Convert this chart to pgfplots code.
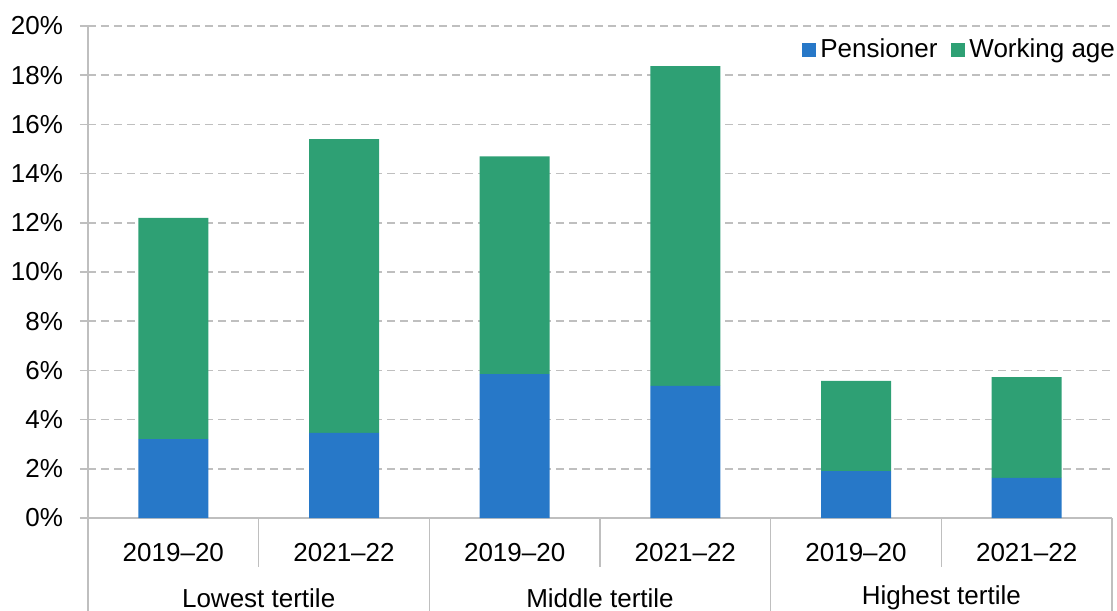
\documentclass[border=0pt]{standalone}
\usepackage{pgfplots}
\pgfplotsset{compat=1.18}
\usepackage{fontspec}
\setmainfont{Liberation Sans}
\definecolor{pens}{RGB}{39,120,200}
\definecolor{work}{RGB}{46,160,116}
\definecolor{gridc}{RGB}{191,191,191}
\begin{document}
\fontsize{13}{15}\selectfont
\begin{tikzpicture}
\path[use as bounding box] (-44pt,-46pt) rectangle (514.5pt,259pt);
\begin{axis}[
  at={(0,0)}, anchor=south west,
  scale only axis, width=512pt, height=246pt,
  ybar stacked, bar width=35pt,
  xmin=-0.5, xmax=5.5, ymin=0, ymax=20,
  xtick={0,1,2,3,4,5},
  xticklabels={2019--20,2021--22,2019--20,2021--22,2019--20,2021--22},
  ytick={0,2,...,20},
  yticklabels={0\%,2\%,4\%,6\%,8\%,10\%,12\%,14\%,16\%,18\%,20\%},
  axis x line*=bottom, axis y line*=left,
  axis line style={draw=gridc, line width=0.8pt, -},
  x tick style={draw=none}, major x tick style={draw=none},
  y tick style={draw=gridc, line width=0.8pt},
  tick align=outside, major tick length=4pt,
  ymajorgrids, grid style={draw=gridc, line width=0.8pt, dash pattern=on 4pt off 2.5pt},
  yticklabel style={font=\fontsize{13}{15}\selectfont, xshift=-4pt},
  xticklabel style={font=\fontsize{13}{15}\selectfont, yshift=-4pt},
  legend style={at={(1.013,0.951)}, anchor=east, draw=none, fill=none,
    font=\fontsize{13}{15}\selectfont, legend columns=2,
    /tikz/every even column/.append style={column sep=5pt}},
  legend image code/.code={\fill[#1] (0pt,-3.5pt) rectangle (7pt,3.5pt);},
  clip=false,
]
\addplot[fill=pens, draw=none] coordinates {(0,3.21) (1,3.46) (2,5.85) (3,5.37) (4,1.91) (5,1.63)};
\addlegendentry{Pensioner}
\addplot[fill=work, draw=none] coordinates {(0,8.99) (1,11.94) (2,8.85) (3,13.0) (4,3.66) (5,4.10)};
\addlegendentry{Working age}
\draw[gridc, line width=0.8pt] (axis cs:-0.5,0) -- ([yshift=-50pt]axis cs:-0.5,0);
\draw[gridc, line width=0.8pt] (axis cs:1.5,0) -- ([yshift=-50pt]axis cs:1.5,0);
\draw[gridc, line width=0.8pt] (axis cs:3.5,0) -- ([yshift=-50pt]axis cs:3.5,0);
\draw[gridc, line width=0.8pt] (axis cs:5.5,0) -- ([yshift=-50pt]axis cs:5.5,0);
\draw[gridc, line width=0.8pt] (axis cs:0.5,0) -- ([yshift=-24.5pt]axis cs:0.5,0);
\draw[gridc, line width=0.8pt] (axis cs:2.5,0) -- ([yshift=-24.5pt]axis cs:2.5,0);
\draw[gridc, line width=0.8pt] (axis cs:4.5,0) -- ([yshift=-24.5pt]axis cs:4.5,0);
\node at (axis cs:0.5,0) [yshift=-40pt] {Lowest tertile};
\node at (axis cs:2.5,0) [yshift=-40pt] {Middle tertile};
\node at (axis cs:4.5,0) [yshift=-40pt] {Highest tertile};
\end{axis}
\end{tikzpicture}
\end{document}
